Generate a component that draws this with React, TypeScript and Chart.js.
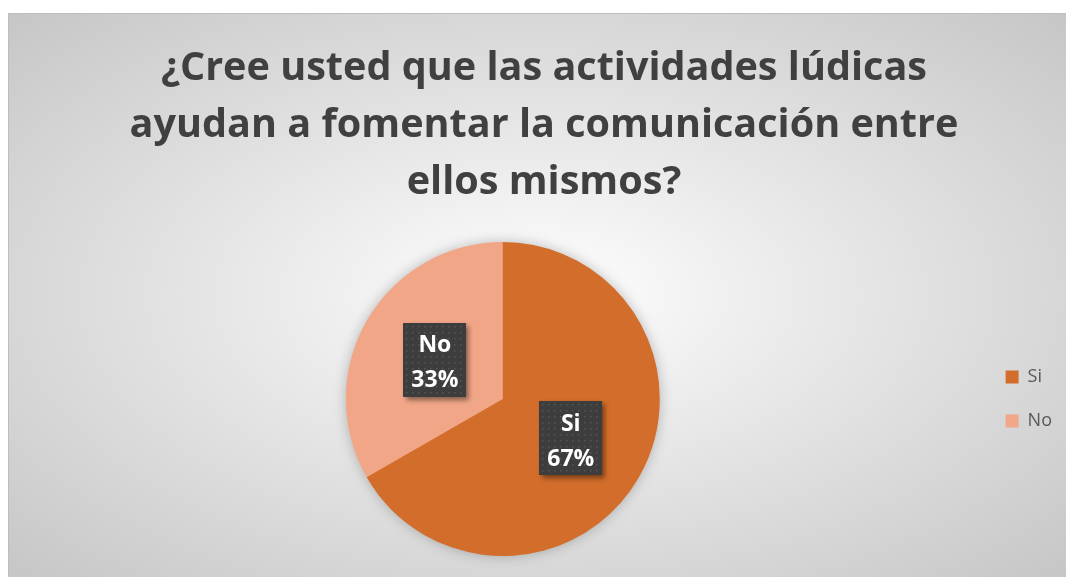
import React, { useEffect, useRef } from 'react';
import { Chart, registerables } from 'chart.js';

Chart.register(...registerables);

const categories = ['Si', 'No'];
const shares = [66.7, 33.3];
const sliceColors = ['#D26D2B', '#F1A688'];
const titleLines = [
  '¿Cree usted que las actividades lúdicas',
  'ayudan a fomentar la comunicación entre',
  'ellos mismos?',
];

const FONT = '"Open Sans", Lato, sans-serif';

const pieShadow = {
  id: 'pieShadow',
  beforeDatasetsDraw(chart: any) {
    const arc = chart.getDatasetMeta(0).data[0];
    if (!arc) return;
    const { x, y, outerRadius } = arc.getProps(['x', 'y', 'outerRadius'], true);
    const ctx = chart.ctx;
    ctx.save();
    ctx.shadowColor = 'rgba(0,0,0,0.28)';
    ctx.shadowBlur = 14;
    ctx.beginPath();
    ctx.arc(x, y, outerRadius - 1, 0, Math.PI * 2);
    ctx.fillStyle = sliceColors[0];
    ctx.fill();
    ctx.restore();
  },
};

const boxLabels = {
  id: 'boxLabels',
  afterDatasetsDraw(chart: any) {
    const ctx = chart.ctx;
    const meta = chart.getDatasetMeta(0);
    const data = chart.data.datasets[0].data as number[];
    const total = data.reduce((a, b) => a + b, 0);
    ctx.save();
    ctx.font = `bold 23px ${FONT}`;
    meta.data.forEach((arc: any, i: number) => {
      const p = arc.tooltipPosition(true);
      const lines = [String(chart.data.labels[i]), Math.round((data[i] / total) * 100) + '%'];
      const w = Math.max(...lines.map((l) => ctx.measureText(l).width)) + 16;
      const h = 74;
      const lx = Math.round(p.x - w / 2);
      const ly = Math.round(p.y - h / 2);
      ctx.save();
      ctx.shadowColor = 'rgba(0,0,0,0.45)';
      ctx.shadowBlur = 5;
      ctx.shadowOffsetX = 3;
      ctx.shadowOffsetY = 3;
      ctx.fillStyle = '#3d3d3d';
      ctx.fillRect(lx, ly, w, h);
      ctx.restore();
      ctx.fillStyle = '#565656';
      for (let dx = 3; dx < w - 1; dx += 6) {
        for (let dy = 3; dy < h - 1; dy += 6) {
          ctx.fillRect(lx + dx, ly + dy, 1.5, 1.5);
        }
      }
      ctx.fillStyle = '#ffffff';
      ctx.textAlign = 'center';
      ctx.textBaseline = 'middle';
      lines.forEach((l, j) => ctx.fillText(l, p.x, p.y - 14 + j * 35));
    });
    ctx.restore();
  },
};

export default function App() {
  const canvasRef = useRef<HTMLCanvasElement | null>(null);

  useEffect(() => {
    if (!canvasRef.current) return;
    const chart = new Chart(canvasRef.current, {
      type: 'pie',
      data: {
        labels: categories,
        datasets: [
          {
            data: shares,
            backgroundColor: sliceColors,
            borderWidth: 0,
          },
        ],
      },
      options: {
        responsive: false,
        animation: false,
        devicePixelRatio: 1,
        layout: { padding: { left: 18, right: 4, top: 0, bottom: 21 } },
        plugins: {
          title: {
            display: true,
            text: titleLines,
            color: '#404040',
            font: { family: FONT, weight: 'bold', size: 39.6, lineHeight: '57px' },
            padding: { top: 27, bottom: 31 },
          },
          legend: {
            position: 'right',
            fullSize: false,
            labels: {
              color: '#595959',
              font: { family: FONT, size: 18 },
              boxWidth: 13,
              boxHeight: 13,
              padding: 26,
            },
          },
          tooltip: { enabled: false },
        },
      },
      plugins: [pieShadow, boxLabels],
    } as any);
    return () => chart.destroy();
  }, []);

  return (
    <div
      style={{
        position: 'absolute',
        left: 8,
        top: 13,
        width: 1058,
        height: 564,
        background:
          'radial-gradient(ellipse farthest-corner at 50% 50%, #ffffff 0%, #f0f0f0 25%, #c6c6c6 100%)',
        boxShadow: 'inset 1px 1px 0 #bdbdbd',
      }}
    >
      <canvas ref={canvasRef} width={1058} height={564} style={{ display: 'block' }} />
    </div>
  );
}
